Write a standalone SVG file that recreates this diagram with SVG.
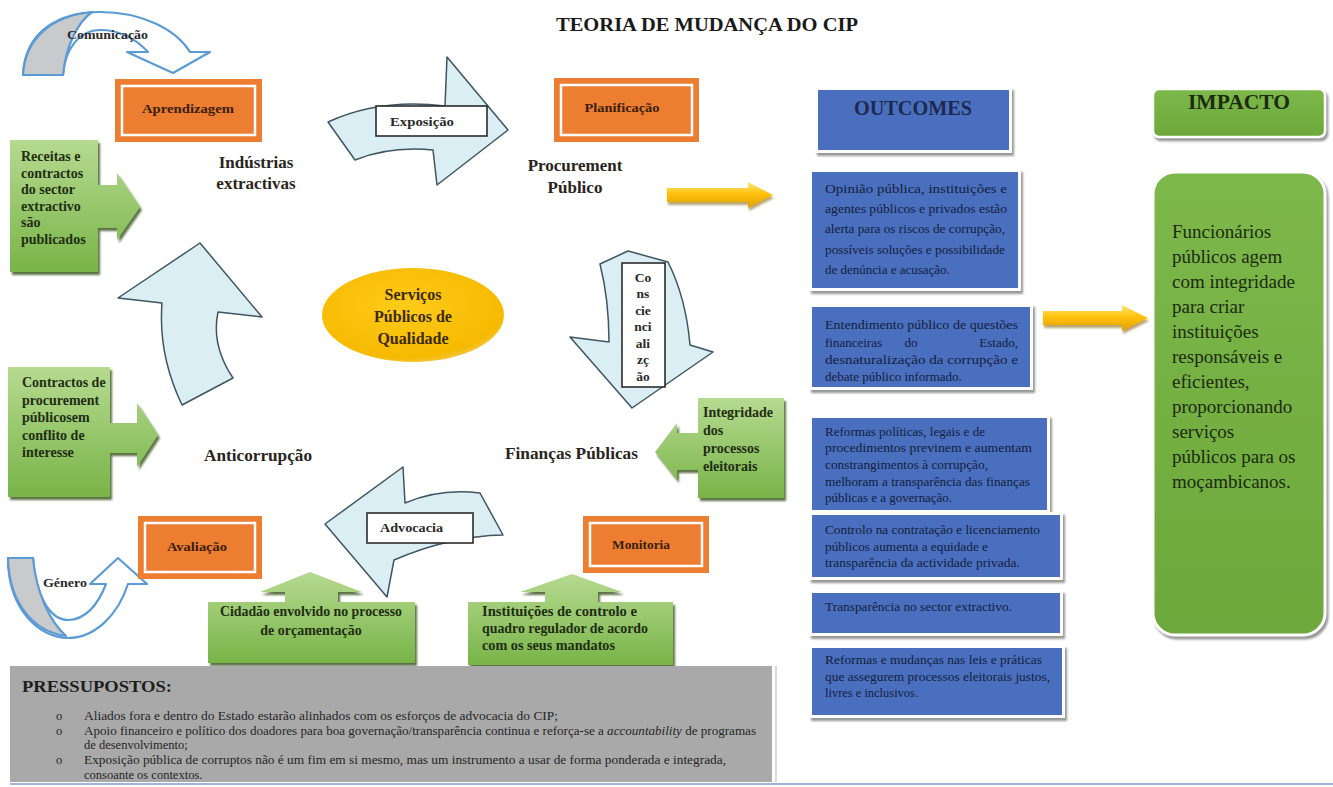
<svg xmlns="http://www.w3.org/2000/svg" width="1333" height="787" viewBox="0 0 1333 787">
<defs>
<style>
text{font-family:"Liberation Serif","Times New Roman",serif;}
.b{font-weight:bold;}
.lbl{font-size:17px;font-weight:bold;fill:#2a2420;}
.gt{font-size:14px;font-weight:bold;fill:#1f2d12;}
.ot{font-size:12.5px;fill:#13203d;}
.ob{font-size:13px;fill:#13203d;}
.pt{font-size:12.5px;fill:#262626;}
.orange{fill:#ED7D31;}
.oin{fill:none;stroke:#fff;stroke-width:2.5;}
.otx{font-size:13px;font-weight:bold;fill:#3a1e08;}
.cyc{fill:#DAEEF3;stroke:#3e5563;stroke-width:1.5;stroke-linejoin:round;}
.lbox{fill:#fff;stroke:#2b2b2b;stroke-width:1.6;}
.ltx{font-size:13.5px;font-weight:bold;fill:#2a2a2a;}
.green{fill:url(#gGreen);filter:url(#gsh);}
.blue{fill:#4A6FBE;}
.bframe{fill:#fff;filter:url(#bsh);}
.rib{fill:#fff;stroke:#5B9BD5;stroke-width:2.2;stroke-linejoin:round;}
.ribg{fill:#c9cacc;stroke:#5B9BD5;stroke-width:2.2;stroke-linejoin:round;}
.yel{fill:url(#gYel);filter:url(#ysh);}
</style>
<linearGradient id="gGreen" x1="0" y1="0" x2="0" y2="1"><stop offset="0" stop-color="#B6DA90"/><stop offset="1" stop-color="#78B448"/></linearGradient>
<linearGradient id="gImp" x1="0" y1="0" x2="0" y2="1"><stop offset="0" stop-color="#7DB84B"/><stop offset="1" stop-color="#6CA83A"/></linearGradient>
<radialGradient id="gGold" cx="0.45" cy="0.4" r="0.65"><stop offset="0" stop-color="#FFCB1A"/><stop offset="0.85" stop-color="#F6BA00"/><stop offset="1" stop-color="#F3CC5A"/></radialGradient>
<linearGradient id="gYel" x1="0" y1="0" x2="0" y2="1"><stop offset="0" stop-color="#FFE57E"/><stop offset="0.45" stop-color="#FFC20A"/><stop offset="1" stop-color="#DFA000"/></linearGradient>
<filter id="gsh" x="-10%" y="-10%" width="130%" height="130%"><feDropShadow dx="2" dy="3" stdDeviation="0.8" flood-color="#3f5a25" flood-opacity="0.85"/></filter>
<filter id="bsh" x="-10%" y="-10%" width="130%" height="130%"><feDropShadow dx="2" dy="3" stdDeviation="0.8" flood-color="#8a8a8a" flood-opacity="0.9"/></filter>
<filter id="ysh" x="-10%" y="-30%" width="130%" height="180%"><feDropShadow dx="1" dy="3" stdDeviation="1" flood-color="#8a6a10" flood-opacity="0.6"/></filter>
</defs>
<rect width="1333" height="787" fill="#fff"/>

<text x="707" y="31" text-anchor="middle" font-size="19.5" class="b" fill="#1a1a1a" textLength="302" lengthAdjust="spacingAndGlyphs">TEORIA DE MUDANÇA DO CIP</text>

<g id="connectors">
  <g id="comunicacao-arrow">
    <path class="rib" d="M23,75 C25,30 60,12 100,12 C140,12 175,28 190,52 L210,52 L173,73 L127,52 L148,52 C135,38 118,30 100,30 C80,30 65,48 63,75 Z"/>
    <path class="ribg" d="M23,75 C25,38 52,16 92,12 C78,22 66,45 63,75 Z"/>
    <text x="67" y="39" class="b" font-size="12.5" fill="#2a2a2a" textLength="81" lengthAdjust="spacingAndGlyphs">Comunicação</text>
  </g>
  <g id="genero-arrow">
    <path class="rib" d="M8,558 C8,610 40,638 68,638 C95,638 118,615 128,584 L147,584 L118,558 L90,584 L106,584 C98,605 85,620 68,620 C50,620 35,595 33,558 Z"/>
    <path class="ribg" d="M8,558 L33,558 C36,592 50,622 66,636 C35,632 9,605 8,558 Z"/>
    <text x="43" y="587" class="b" font-size="12.5" fill="#2a2a2a" textLength="44" lengthAdjust="spacingAndGlyphs">Género</text>
  </g>
  <g id="exposicao-arrow">
    <path class="cyc" d="M328,122 Q380,98 445,106 L447,57 L508,130 L437,185 L433,150 Q390,146 355,160 Z"/>
    <rect class="lbox" x="376" y="106" width="111" height="30"/>
    <text x="390" y="126" class="ltx" textLength="64" lengthAdjust="spacingAndGlyphs">Exposição</text>
  </g>
  <g id="consciencializacao-arrow">
    <path class="cyc" d="M600,264 L628,251 L668,262 Q686,298 690,345 L713,352 L632,408 L570,337 L609,342 Q609,300 600,264 Z"/>
    <rect class="lbox" x="622" y="263" width="43" height="124"/>
    <g class="ltx" text-anchor="middle">
      <text x="643" y="282">Co</text><text x="643" y="298">ns</text><text x="643" y="315">cie</text><text x="643" y="331">nci</text><text x="643" y="348">ali</text><text x="643" y="364">zç</text><text x="643" y="381">ão</text>
    </g>
  </g>
  <g id="advocacia-arrow">
    <path class="cyc" d="M480,493 Q440,488 405,503 L403,467 L325,524 L387,597 L394,560 Q450,536 503,535 Z"/>
    <rect class="lbox" x="367" y="513" width="106" height="30"/>
    <text x="380" y="532" class="ltx" textLength="63" lengthAdjust="spacingAndGlyphs">Advocacia</text>
  </g>
  <g id="anticorrupcao-arrow">
    <path class="cyc" d="M182,405 Q158,355 162,303 L118,298 L200,243 L262,317 L218,312 Q211,345 233,378 Z"/>
  </g>
  <g id="yellow-arrows">
    <path class="yel" d="M667,188 H748 V182 L773,195 L748,208 V202 H667 Z"/>
    <path class="yel" d="M1043,311 H1122 V305 L1148,318 L1122,331 V325 H1043 Z"/>
  </g>
</g>

<g id="node-aprendizagem">
  <rect class="orange" x="115" y="79" width="147" height="63"/>
  <rect class="oin" x="122" y="86" width="133" height="49"/>
  <text x="188" y="113" text-anchor="middle" class="otx" textLength="92" lengthAdjust="spacingAndGlyphs">Aprendizagem</text>
</g>
<g id="node-planificacao">
  <rect class="orange" x="554" y="78" width="145" height="64"/>
  <rect class="oin" x="561" y="85" width="131" height="50"/>
  <text x="622" y="112" text-anchor="middle" class="otx" textLength="75" lengthAdjust="spacingAndGlyphs">Planificação</text>
</g>
<g id="node-avaliacao">
  <rect class="orange" x="138" y="516" width="124" height="63"/>
  <rect class="oin" x="145" y="523" width="110" height="49"/>
  <text x="197" y="551" text-anchor="middle" class="otx" textLength="60" lengthAdjust="spacingAndGlyphs">Avaliação</text>
</g>
<g id="node-monitoria">
  <rect class="orange" x="583" y="516" width="126" height="57"/>
  <rect class="oin" x="590" y="523" width="112" height="43"/>
  <text x="641" y="549" text-anchor="middle" class="otx" textLength="58" lengthAdjust="spacingAndGlyphs">Monitoria</text>
</g>

<g id="node-industrias">
  <text x="256" y="168" text-anchor="middle" class="lbl">Indústrias</text>
  <text x="256" y="189" text-anchor="middle" class="lbl">extractivas</text>
</g>
<g id="node-procurement">
  <text x="575" y="171" text-anchor="middle" class="lbl">Procurement</text>
  <text x="575" y="193" text-anchor="middle" class="lbl">Público</text>
</g>
<g id="node-anticorrupcao">
  <text x="204" y="461" class="lbl" textLength="108" lengthAdjust="spacingAndGlyphs">Anticorrupção</text>
</g>
<g id="node-financas">
  <text x="505" y="459" class="lbl" textLength="133" lengthAdjust="spacingAndGlyphs">Finanças Públicas</text>
</g>

<g id="node-servicos">
  <ellipse cx="413" cy="315" rx="91" ry="47" fill="url(#gGold)"/>
  <g text-anchor="middle" font-size="16" class="b" fill="#3b2a0c">
    <text x="413" y="300">Serviços</text>
    <text x="413" y="322">Públicos de</text>
    <text x="413" y="344">Qualidade</text>
  </g>
</g>

<g id="node-receitas">
  <path class="green" d="M10,140 H98 V185 H117 V173 L140,207 L117,240 V228 H98 V272 H10 Z"/>
  <g class="gt"><text x="21" y="161">Receitas e</text><text x="21" y="177.5">contractos</text><text x="21" y="194">do sector</text><text x="21" y="210.5">extractivo</text><text x="21" y="227">são</text><text x="21" y="244">publicados</text></g>
</g>
<g id="node-contractos">
  <path class="green" d="M8,367 H110 V423 H137 V403 L158,435 L137,467 V453 H110 V497 H8 Z"/>
  <g class="gt"><text x="22" y="387">Contractos de</text><text x="22" y="404.5">procurement</text><text x="22" y="422">públicosem</text><text x="22" y="439.5">conflito de</text><text x="22" y="457">interesse</text></g>
</g>
<g id="node-integridade">
  <path class="green" d="M698,398 H784 V498 H698 V470 H677 V480 L655,452 L677,423 V433 H698 Z"/>
  <g class="gt"><text x="703" y="417">Integridade</text><text x="703" y="435">dos</text><text x="703" y="453">processos</text><text x="703" y="471">eleitorais</text></g>
</g>
<g id="node-cidadao">
  <path class="green" d="M208,602 H285 V592 H260 L310,572 L362,592 H338 V602 H415 V663 H208 Z"/>
  <g class="gt" font-size="13.5" text-anchor="middle"><text x="311" y="616" textLength="182" lengthAdjust="spacingAndGlyphs">Cidadão envolvido no processo</text><text x="311" y="635">de orçamentação</text></g>
</g>
<g id="node-instituicoes">
  <path class="green" d="M468,602 H545 V592 H520 L572,574 L622,592 H598 V602 H673 V665 H468 Z"/>
  <g class="gt" font-size="13.5"><text x="482" y="616" textLength="155" lengthAdjust="spacingAndGlyphs">Instituições de controlo e</text><text x="482" y="633" textLength="166" lengthAdjust="spacingAndGlyphs">quadro regulador de acordo</text><text x="482" y="650" textLength="133" lengthAdjust="spacingAndGlyphs">com os seus mandatos</text></g>
</g>

<g id="node-outcomes-header">
  <rect class="bframe" x="815" y="87" width="197" height="66"/>
  <rect class="blue" x="818" y="90" width="191" height="60"/>
  <text x="913" y="115" text-anchor="middle" font-size="20" class="b" fill="#1b2a4e" textLength="118" lengthAdjust="spacingAndGlyphs">OUTCOMES</text>
</g>
<g id="node-outcome-1">
  <rect class="bframe" x="809" y="169" width="212" height="122"/>
  <rect class="blue" x="812" y="172" width="206" height="116"/>
  <g class="ob"><text x="825" y="193" textLength="182" lengthAdjust="spacingAndGlyphs">Opinião pública, instituições e</text><text x="825" y="213" textLength="182" lengthAdjust="spacingAndGlyphs">agentes públicos e privados estão</text><text x="825" y="233" textLength="180" lengthAdjust="spacingAndGlyphs">alerta para os riscos de corrupção,</text><text x="825" y="254" textLength="180" lengthAdjust="spacingAndGlyphs">possíveis soluções e possibilidade</text><text x="825" y="274">de denúncia e acusação.</text></g>
</g>
<g id="node-outcome-2">
  <rect class="bframe" x="809" y="304" width="224" height="86"/>
  <rect class="blue" x="812" y="307" width="218" height="80"/>
  <g class="ob"><text x="825" y="329" textLength="193" lengthAdjust="spacingAndGlyphs">Entendimento público de questões</text><text x="825" y="347">financeiras</text><text x="911" y="347" text-anchor="middle">do</text><text x="1018" y="347" text-anchor="end">Estado,</text><text x="825" y="364" textLength="193" lengthAdjust="spacingAndGlyphs">desnaturalização da corrupção e</text><text x="825" y="381">debate público informado.</text></g>
</g>
<g id="node-outcome-3">
  <rect class="bframe" x="809" y="415" width="241" height="98"/>
  <rect class="blue" x="812" y="418" width="235" height="92"/>
  <g class="ot"><text x="825" y="436" textLength="160" lengthAdjust="spacingAndGlyphs">Reformas políticas, legais e de</text><text x="825" y="452" textLength="207" lengthAdjust="spacingAndGlyphs">procedimentos previnem e aumentam</text><text x="825" y="469" textLength="163" lengthAdjust="spacingAndGlyphs">constrangimentos à corrupção,</text><text x="825" y="486" textLength="205" lengthAdjust="spacingAndGlyphs">melhoram a transparência das finanças</text><text x="825" y="502" textLength="127" lengthAdjust="spacingAndGlyphs">públicas e a governação.</text></g>
</g>
<g id="node-outcome-4">
  <rect class="bframe" x="809" y="512" width="254" height="68"/>
  <rect class="blue" x="812" y="515" width="248" height="62"/>
  <g class="ot"><text x="825" y="534" textLength="215" lengthAdjust="spacingAndGlyphs">Controlo na contratação e licenciamento</text><text x="825" y="551" textLength="163" lengthAdjust="spacingAndGlyphs">públicos aumenta a equidade e</text><text x="825" y="567" textLength="195" lengthAdjust="spacingAndGlyphs">transparência da actividade privada.</text></g>
</g>
<g id="node-outcome-5">
  <rect class="bframe" x="809" y="590" width="254" height="46"/>
  <rect class="blue" x="812" y="593" width="248" height="40"/>
  <text x="825" y="611" class="ot" textLength="187" lengthAdjust="spacingAndGlyphs">Transparência no sector extractivo.</text>
</g>
<g id="node-outcome-6">
  <rect class="bframe" x="809" y="645" width="256" height="73"/>
  <rect class="blue" x="812" y="648" width="250" height="67"/>
  <g class="ot"><text x="825" y="664" textLength="217" lengthAdjust="spacingAndGlyphs">Reformas e mudanças nas leis e práticas</text><text x="825" y="681" textLength="225" lengthAdjust="spacingAndGlyphs">que assegurem processos eleitorais justos,</text><text x="825" y="697" textLength="93" lengthAdjust="spacingAndGlyphs">livres e inclusivos.</text></g>
</g>

<g id="node-impacto-header">
  <rect x="1153" y="89" width="172" height="48" rx="6" fill="url(#gImp)" stroke="#fff" stroke-width="2.5" filter="url(#bsh)"/>
  <text x="1239" y="109" text-anchor="middle" font-size="20" class="b" fill="#1c2a10" textLength="102" lengthAdjust="spacingAndGlyphs">IMPACTO</text>
</g>
<g id="node-impacto">
  <rect x="1153" y="172" width="172" height="463" rx="22" fill="url(#gImp)" stroke="#fff" stroke-width="3" filter="url(#bsh)"/>
  <g font-size="19" fill="#1c2a10">
    <text x="1172" y="238">Funcionários</text><text x="1172" y="263">públicos agem</text><text x="1172" y="288">com integridade</text><text x="1172" y="313">para criar</text><text x="1172" y="338">instituições</text><text x="1172" y="363">responsáveis e</text><text x="1172" y="388">eficientes,</text><text x="1172" y="413">proporcionando</text><text x="1172" y="438">serviços</text><text x="1172" y="463">públicos para os</text><text x="1172" y="488">moçambicanos.</text>
  </g>
</g>

<g id="node-pressupostos">
  <rect x="10" y="666" width="762" height="116" fill="#A9A9A9"/>
  <line x1="776" y1="666" x2="776" y2="782" stroke="#d8d8d8" stroke-width="2"/>
  <text x="22" y="692" font-size="16.5" class="b" fill="#1e1e1e" textLength="150" lengthAdjust="spacingAndGlyphs">PRESSUPOSTOS:</text>
  <g class="pt">
    <text x="56" y="720">o</text><text x="56" y="735">o</text><text x="56" y="764">o</text>
    <text x="84" y="720" textLength="474" lengthAdjust="spacingAndGlyphs">Aliados fora e dentro do Estado estarão alinhados com os esforços de advocacia do CIP;</text>
    <text x="84" y="735" textLength="672" lengthAdjust="spacingAndGlyphs">Apoio financeiro e político dos doadores para boa governação/transparência continua e reforça-se a <tspan font-style="italic">accountability</tspan> de programas</text>
    <text x="84" y="749">de desenvolvimento;</text>
    <text x="84" y="764" textLength="642" lengthAdjust="spacingAndGlyphs">Exposição pública de corruptos não é um fim em si mesmo, mas um instrumento a usar de forma ponderada e integrada,</text>
    <text x="84" y="779">consoante os contextos.</text>
  </g>
  <line x1="10" y1="784" x2="1333" y2="784" stroke="#9fb4d8" stroke-width="2"/>
</g>
</svg>
